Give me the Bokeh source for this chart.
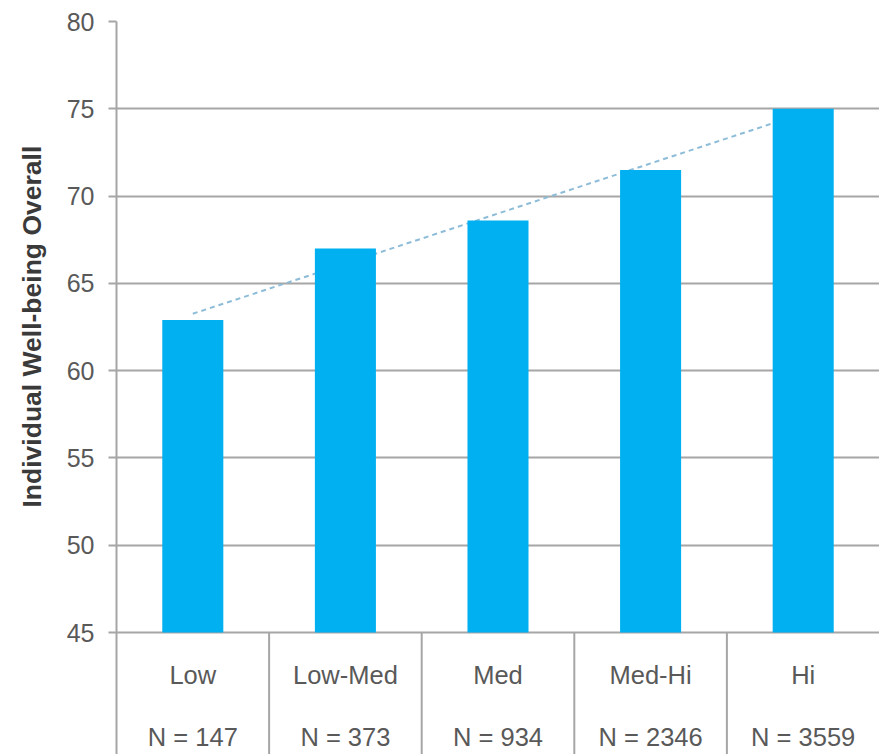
import numpy as np
from bokeh.plotting import figure
from bokeh.models import Range1d, FixedTicker, Title, ColumnDataSource
from bokeh.core.properties import value
from bokeh.embed import file_html
from bokeh.resources import INLINE

categories = ["Low", "Low-Med", "Med", "Med-Hi", "Hi"]
n_labels = ["N = 147", "N = 373", "N = 934", "N = 2346", "N = 3559"]
wellbeing = [62.9, 67.0, 68.6, 71.5, 75.0]
y_ticks = [45, 50, 55, 60, 65, 70, 75, 80]

FONT = "Liberation Sans"
TEXT_COLOR = "#595959"
GRID_COLOR = "#a6a6a6"
BAR_COLOR = "#00b0f0"

W, H = 879, 754
left, top, bottom_frame_px = 116, 21, 632
px_per_unit = (bottom_frame_px - top) / (y_ticks[-1] - y_ticks[0])
y_min = y_ticks[0] - (H - bottom_frame_px) / px_per_unit

p = figure(width=W, height=H, output_backend="svg", toolbar_location=None,
           x_axis_type=None, x_range=Range1d(0, len(categories)),
           y_range=Range1d(y_min, y_ticks[-1]),
           min_border_left=left, min_border_right=0, min_border_top=top,
           min_border_bottom=0)
p.outline_line_color = None
p.background_fill_color = "white"
p.border_fill_color = "white"

yax = p.yaxis[0]
yax.ticker = FixedTicker(ticks=y_ticks)
yax.major_tick_out = 8
yax.major_tick_in = 0
yax.minor_tick_line_color = None
yax.major_tick_line_color = GRID_COLOR
yax.major_tick_line_width = 2
yax.axis_line_color = GRID_COLOR
yax.axis_line_width = 2
yax.major_label_standoff = 14
yax.major_label_text_font = FONT
yax.major_label_text_font_size = "25px"
yax.major_label_text_color = TEXT_COLOR

p.ygrid.ticker = FixedTicker(ticks=y_ticks)
p.ygrid.grid_line_color = GRID_COLOR
p.ygrid.grid_line_width = 2
p.xgrid.grid_line_color = None

xs = np.arange(len(categories)) + 0.5

# trend line (linear fit of the bar values), drawn behind bars
slope, intercept = np.polyfit(np.arange(len(categories)), wellbeing, 1)
trend_x = [xs[0], xs[-1]]
trend_y = [intercept, intercept + slope * (len(categories) - 1)]
p.line(trend_x, trend_y, line_color="#8dbcd8", line_width=2, line_dash="5 4")

src = ColumnDataSource(dict(x=xs, top=wellbeing, cat=categories, n=n_labels))
p.vbar(x="x", top="top", bottom=y_ticks[0], width=0.4, source=src,
       fill_color=BAR_COLOR, line_color=None)

# table separators below the axis
sep_x = np.arange(1, len(categories))
p.segment(x0=sep_x, y0=y_min, x1=sep_x, y1=y_ticks[0],
          line_color=GRID_COLOR, line_width=2)

cat_y = y_ticks[0] - (674 - bottom_frame_px) / px_per_unit
n_y = y_ticks[0] - (736 - bottom_frame_px) / px_per_unit
p.text(x="x", y=cat_y, text="cat", source=src, text_align="center",
       text_baseline="middle", text_font=value(FONT),
       text_font_size="25.5px", text_color=TEXT_COLOR)
p.text(x="x", y=n_y, text="n", source=src, text_align="center",
       text_baseline="middle", text_font=value(FONT),
       text_font_size="25.5px", text_color=TEXT_COLOR)

ytitle = Title(text="Individual Well-being Overall", align="left",
               offset=H - 507, vertical_align="top", standoff=30,
               text_font=FONT, text_font_size="26.5px", text_font_style="bold",
               text_color="#3a3a3a")
p.add_layout(ytitle, "left")

open("out.html", "w").write(file_html(p, INLINE))
